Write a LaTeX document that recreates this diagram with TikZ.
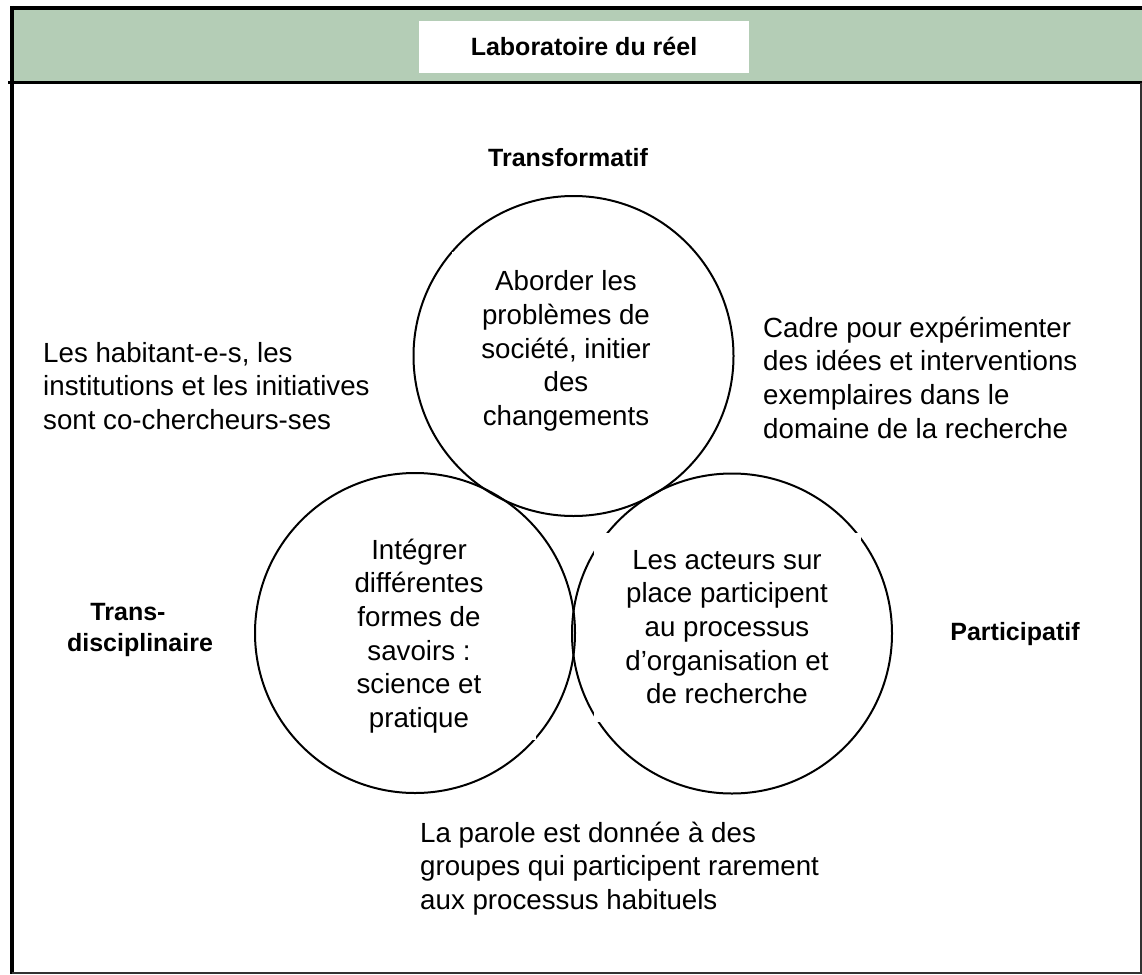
\documentclass[tikz,border=0pt]{standalone}
\usepackage{fontspec}
\setmainfont{Liberation Sans}
\definecolor{headgreen}{RGB}{180,205,182}
\definecolor{framegray}{RGB}{50,50,50}
\newcommand{\fls}{\rule{0pt}{25pt}}
\begin{document}
\begin{tikzpicture}[x=1pt,y=-1pt,
  txt/.style={font=\fontsize{27.7}{33.6}\selectfont, inner sep=0pt},
  bold/.style={font=\fontsize{25}{31}\selectfont\bfseries, inner sep=0pt},
  circ/.style={circle, draw=black, line width=2pt, minimum size=320pt, inner sep=0pt},
  tbox/.style={txt, fill=white, align=center},
  frame/.style={line width=4pt, black}
]
\useasboundingbox (0,0) rectangle (1142,974);
% header
\fill[headgreen] (12,8) rectangle (1142,82.5);
\node[fill=white, minimum width=330pt, minimum height=52pt, inner sep=0pt] (titlebox) at (584,47) {};
\node[bold, anchor=base] (title) at (584,56) {Laboratoire du réel};
% frame
\draw[frame] (10,8) -- (1142,8);
\draw[frame] (12,6) -- (12,974);
\draw[line width=3pt, black] (8,82.5) -- (1142,82.5);
\draw[line width=1.5pt, framegray] (12,973) -- (1142,973);
\draw[line width=1.5pt, framegray] (1141,82.5) -- (1141,973);
% circles
\node[circ] (ctop) at (573.5,356) {};
\node[circ] (cleft) at (415,633) {};
\node[circ] (cright) at (732,633.5) {};
% circle texts (white boxes)
\node[tbox, minimum width=228pt, minimum height=198pt] (ttop) at (566,351)
  {Aborder les\\problèmes de\\société, initier\\des\\changements};
\node[tbox, minimum width=234pt, minimum height=208pt] (tleft) at (419,636)
  {Intégrer\\différentes\\formes de\\savoirs :\\science et\\pratique};
\node[tbox, minimum width=267pt, minimum height=189pt] (tright) at (727,627)
  {Les acteurs sur\\place participent\\au processus\\d’organisation et\\de recherche};
% outer labels
\node[bold, anchor=base] (transf) at (568,166) {Transformatif};
\node[bold, align=center, anchor=north] (transd) at (140,595) {\fls Trans-\hspace*{24pt}\\disciplinaire};
\node[bold, anchor=base] (partic) at (1015,640) {Participatif};
\node[txt, align=left, anchor=north west] (habit) at (43,337)
  {\fls Les habitant-e-s, les\\institutions et les initiatives\\sont co-chercheurs-ses};
\node[txt, align=left, anchor=north west] (cadre) at (763,312)
  {\fls Cadre pour expérimenter\\des idées et interventions\\exemplaires dans le\\domaine de la recherche};
\node[txt, align=left, anchor=north west] (parole) at (420,817)
  {\fls La parole est donnée à des\\groupes qui participent rarement\\aux processus habituels};
\end{tikzpicture}
\end{document}
